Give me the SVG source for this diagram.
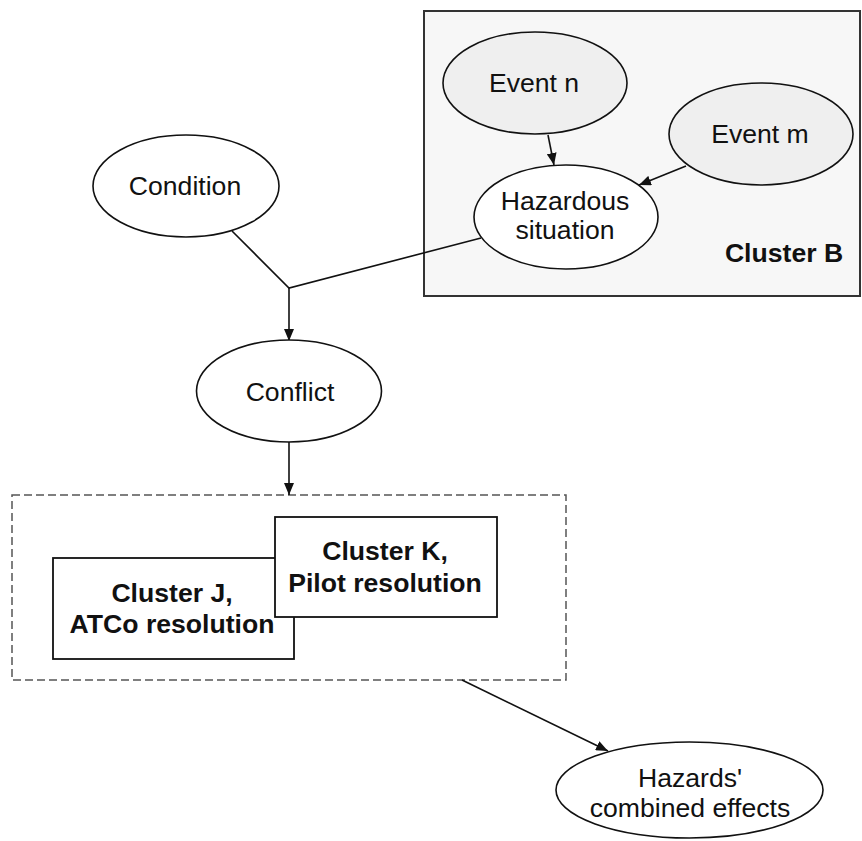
<svg xmlns="http://www.w3.org/2000/svg" width="862" height="841" viewBox="0 0 862 841">
<style>
  .t { font-family: "Liberation Sans", Arial, sans-serif; font-size: 26.6px; fill: #111; text-anchor: middle; }
  .b { font-weight: bold; }
  .el { stroke: #111; stroke-width: 1.6; }
  .box { fill: #fff; stroke: #111; stroke-width: 1.8; }
  .edge { fill: none; stroke: #111; stroke-width: 1.6; }
</style>
<defs>
  <marker id="arr" markerUnits="userSpaceOnUse" markerWidth="13" markerHeight="10" refX="12" refY="5" orient="auto">
    <path d="M0,0 L12,5 L0,10 z" fill="#111"/>
  </marker>
</defs>
<rect width="862" height="841" fill="#fff"/>

<g id="clusterB">
  <rect x="424" y="11" width="436" height="285" fill="#f7f7f7" stroke="#333" stroke-width="2"/>
  <text class="t b" x="784" y="262">Cluster B</text>
</g>

<g id="resolution">
  <rect x="12" y="495" width="554" height="185" fill="none" stroke="#555" stroke-width="1.5" stroke-dasharray="8,4"/>
</g>

<g id="connectors">
  <line class="edge" x1="548" y1="135" x2="554" y2="165" marker-end="url(#arr)"/>
  <line class="edge" x1="686" y1="166" x2="639" y2="185" marker-end="url(#arr)"/>
  <polyline class="edge" points="232,231 289,288 481,238"/>
  <line class="edge" x1="289" y1="288" x2="289" y2="341" marker-end="url(#arr)"/>
  <line class="edge" x1="289" y1="442" x2="289" y2="495" marker-end="url(#arr)"/>
  <line class="edge" x1="462" y1="680" x2="608" y2="751" marker-end="url(#arr)"/>
</g>

<g id="eventN">
  <ellipse class="el" cx="535" cy="83" rx="92" ry="51" fill="#efefef"/>
  <text class="t" x="534" y="92">Event n</text>
</g>
<g id="eventM">
  <ellipse class="el" cx="761" cy="134" rx="92" ry="51" fill="#efefef"/>
  <text class="t" x="760" y="143">Event m</text>
</g>
<g id="hazardous">
  <ellipse class="el" cx="566" cy="217" rx="92" ry="52" fill="#fff"/>
  <text class="t" x="565" y="210">Hazardous</text>
  <text class="t" x="565" y="239">situation</text>
</g>
<g id="condition">
  <ellipse class="el" cx="186" cy="186" rx="93" ry="51" fill="#fff"/>
  <text class="t" x="185" y="195">Condition</text>
</g>
<g id="conflict">
  <ellipse class="el" cx="289" cy="391" rx="92.5" ry="51" fill="#fff"/>
  <text class="t" x="290" y="401">Conflict</text>
</g>
<g id="clusterJ">
  <rect class="box" x="53" y="558" width="241" height="101"/>
  <text class="t b" x="172" y="602">Cluster J,</text>
  <text class="t b" x="172" y="633">ATCo resolution</text>
</g>
<g id="clusterK">
  <rect class="box" x="275" y="517" width="222" height="100"/>
  <text class="t b" x="385" y="560">Cluster K,</text>
  <text class="t b" x="385" y="592">Pilot resolution</text>
</g>
<g id="hazards">
  <ellipse class="el" cx="689.5" cy="790" rx="133.5" ry="48" fill="#fff"/>
  <text class="t" x="690" y="787">Hazards'</text>
  <text class="t" x="690" y="817">combined effects</text>
</g>
</svg>
